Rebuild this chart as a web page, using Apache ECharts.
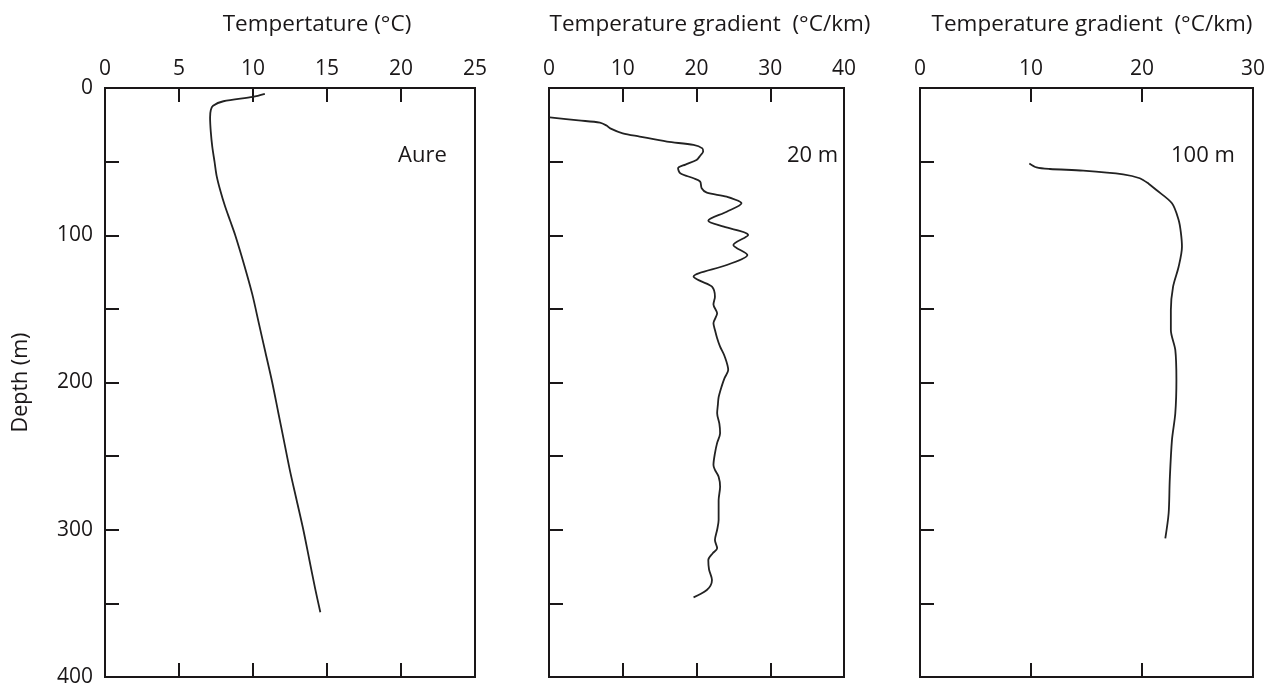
<!DOCTYPE html>
<html>
<head>
<meta charset="utf-8">
<title>Borehole temperature profiles</title>
<script src="https://cdn.jsdelivr.net/npm/echarts@6/dist/echarts.min.js"></script>
<style>
  html, body { margin: 0; padding: 0; background: #fff; }
  #chart { width: 1274px; height: 689px; }
</style>
</head>
<body>
<div id="chart"></div>
<script>
// Aure: temperature (°C) vs depth (m)
const tempDepth = [4, 6, 9, 12, 15, 20, 30, 40, 50, 60, 70, 80, 90, 100, 120, 140, 160, 180, 200, 220, 240, 260, 280, 300, 320, 340, 356]
const tempValues = [10.8, 10.0, 8.0, 7.3, 7.15, 7.1, 7.15, 7.25, 7.4, 7.55, 7.8, 8.1, 8.45, 8.8, 9.4, 9.95, 10.4, 10.85, 11.3, 11.7, 12.1, 12.5, 12.95, 13.4, 13.8, 14.2, 14.55]

// gradient over 20 m intervals (°C/km)
const grad20Depth = [20, 22, 23.5, 25.5, 27.4, 30.8, 33, 36.4, 38.7, 41, 43.2, 46, 48.9, 52, 54.5, 57.9, 61.3, 63.6, 68.1, 71.1, 73.8, 78.3, 84, 90.1, 94.2, 99.8, 106.6, 113.4, 120.2, 128.1, 131, 134.9, 141.7, 147, 153, 159.8, 164.3, 170, 175.7, 182, 191.5, 197, 202.8, 210, 215, 220.9, 228, 234.5, 241, 248.1, 256, 259.4, 264, 270.8, 280, 293.4, 300, 307, 312.6, 316, 320.5, 327, 334.1, 338, 340.9, 343.5, 345.9]
const grad20Values = [0.1, 4, 6.9, 7.8, 8.3, 10, 12.3, 16, 19.6, 20.8, 20.9, 20.5, 20, 18.5, 17.5, 17.8, 19.6, 20.5, 20.7, 21.4, 24.1, 26.1, 24.1, 21.6, 23.7, 27.0, 25.0, 26.9, 24.1, 19.6, 20.5, 22.1, 22.5, 22.3, 22.8, 22.3, 22.5, 22.8, 23.2, 23.8, 24.3, 23.8, 23.4, 23.0, 22.9, 22.8, 23.1, 23.2, 22.8, 22.5, 22.3, 22.5, 23.0, 23.2, 23.0, 23.0, 22.8, 22.5, 22.8, 22.2, 21.6, 21.7, 22.1, 21.9, 21.4, 20.6, 19.6]

// gradient over 100 m intervals (°C/km)
const grad100Depth = [51.2, 53.9, 55, 56.1, 58.6, 61.3, 65, 69.3, 78.3, 89.6, 98, 107.8, 121.4, 134.9, 150.8, 164.3, 177.9, 198.3, 220.9, 239, 266.2, 288.8, 305.8]
const grad100Values = [9.85, 10.5, 11.7, 14.7, 18.3, 19.8, 20.6, 21.3, 22.7, 23.3, 23.5, 23.6, 23.3, 22.8, 22.6, 22.6, 23.0, 23.1, 23.0, 22.7, 22.5, 22.4, 22.1]

const panelTitles = ['Tempertature (°C)', 'Temperature gradient  (°C/km)', 'Temperature gradient  (°C/km)']
const panelLabels = ['Aure', '20 m', '100 m']
const xMax = [25, 40, 30]
const xStep = [5, 10, 10]

const ink = '#1a1718'
const font = 'Open Sans'

const grids = [
  { left: 105, top: 88, width: 370, height: 589 },
  { left: 549, top: 88, width: 295, height: 589 },
  { left: 920, top: 88, width: 333, height: 589 }
]
const titleX = [312, 705, 1087]
const labelX = [393, 782, 1166]

const chart = echarts.init(document.getElementById('chart'))

const tickStyle = { show: true, inside: true, length: 14, lineStyle: { color: ink, width: 2 } }

const xAxes = []
const yAxes = []
grids.forEach((g, i) => {
  xAxes.push({
    type: 'value', gridIndex: i, position: 'top', min: 0, max: xMax[i], interval: xStep[i],
    axisLine: { show: false }, axisTick: tickStyle, splitLine: { show: false },
    axisLabel: { color: ink, fontFamily: font, fontSize: 21, margin: 8 }
  })
  xAxes.push({
    type: 'value', gridIndex: i, position: 'bottom', min: 0, max: xMax[i], interval: xStep[i],
    axisLine: { show: false }, axisTick: tickStyle, splitLine: { show: false },
    axisLabel: { show: false }
  })
  yAxes.push({
    type: 'value', gridIndex: i, inverse: true, min: 0, max: 400, interval: 50,
    axisLine: { show: false }, axisTick: tickStyle, splitLine: { show: false },
    axisLabel: {
      show: i === 0, color: ink, fontFamily: font, fontSize: 21, margin: 12,
      formatter: v => (v % 100 === 0 ? v : '')
    },
    name: i === 0 ? 'Depth (m)' : '',
    nameLocation: 'middle', nameGap: 73,
    nameTextStyle: { color: ink, fontFamily: font, fontSize: 21.5 }
  })
})

function pairs(xs, ds) {
  return xs.map((v, k) => [v, ds[k]])
}

const seriesData = [
  pairs(tempValues, tempDepth),
  pairs(grad20Values, grad20Depth),
  pairs(grad100Values, grad100Depth)
]

const option = {
  animation: false,
  backgroundColor: '#fff',
  title: [
    ...panelTitles.map((t, i) => ({
      text: t, left: titleX[i], top: 8, textAlign: 'center',
      textStyle: { color: ink, fontFamily: font, fontSize: 22.5, fontWeight: 'normal' }
    })),
    ...panelLabels.map((t, i) => ({
      text: t, left: labelX[i], top: 140,
      textStyle: { color: ink, fontFamily: font, fontSize: 22, fontWeight: 'normal' }
    }))
  ],
  grid: grids.map(g => ({ ...g, show: true, borderColor: ink, borderWidth: 2, backgroundColor: 'transparent' })),
  xAxis: xAxes,
  yAxis: yAxes,
  series: seriesData.map((d, i) => ({
    type: 'line',
    xAxisIndex: i * 2,
    yAxisIndex: i,
    data: d,
    smooth: 0.3,
    showSymbol: false,
    lineStyle: { color: '#222', width: 1.8 }
  }))
}

chart.setOption(option)

window.addEventListener('resize', () => chart.resize())
</script>
</body>
</html>
